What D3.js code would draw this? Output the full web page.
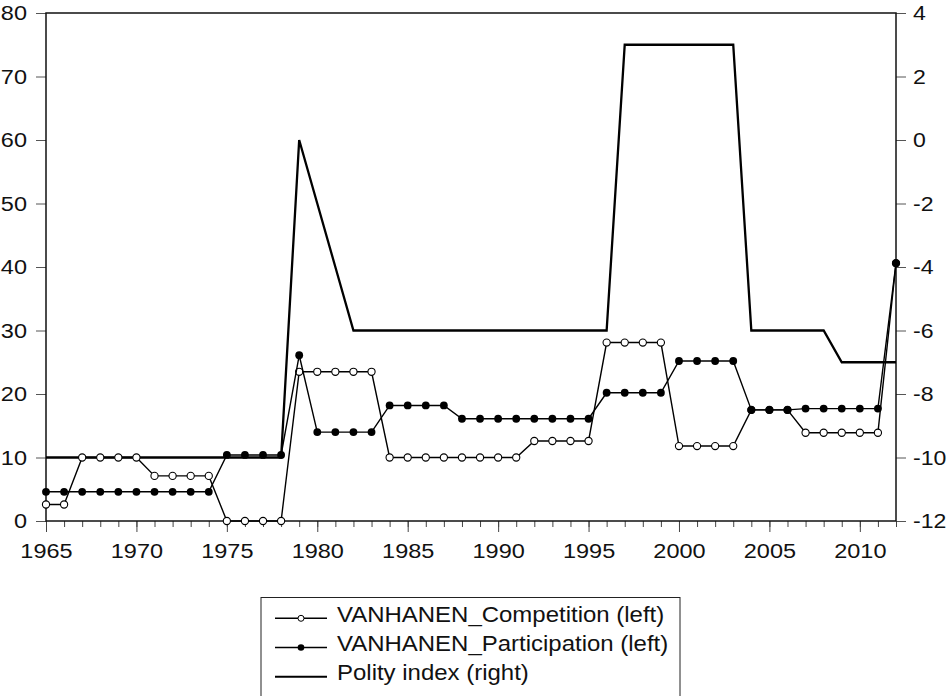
<!DOCTYPE html>
<html>
<head>
<meta charset="utf-8">
<script src="https://cdn.jsdelivr.net/npm/d3@7"></script>
<style>
  body { margin: 0; background: #fff; }
  svg { display: block; font-family: "Liberation Sans", Arial, sans-serif; }
</style>
</head>
<body>
<svg id="chart" width="948" height="696"></svg>
<script>
const years = [1965, 1966, 1967, 1968, 1969, 1970, 1971, 1972, 1973, 1974,
  1975, 1976, 1977, 1978, 1979, 1980, 1981, 1982, 1983, 1984,
  1985, 1986, 1987, 1988, 1989, 1990, 1991, 1992, 1993, 1994,
  1995, 1996, 1997, 1998, 1999, 2000, 2001, 2002, 2003, 2004,
  2005, 2006, 2007, 2008, 2009, 2010, 2011, 2012];

const competition = [2.6, 2.6, 10.0, 10.0, 10.0, 10.0, 7.1, 7.1, 7.1, 7.1,
  0, 0, 0, 0, 23.5, 23.5, 23.5, 23.5, 23.5, 10.0,
  10.0, 10.0, 10.0, 10.0, 10.0, 10.0, 10.0, 12.6, 12.6, 12.6,
  12.6, 28.1, 28.1, 28.1, 28.1, 11.8, 11.8, 11.8, 11.8, 17.5,
  17.5, 17.5, 13.9, 13.9, 13.9, 13.9, 13.9, 40.6];

const participation = [4.6, 4.6, 4.6, 4.6, 4.6, 4.6, 4.6, 4.6, 4.6, 4.6,
  10.4, 10.4, 10.4, 10.4, 26.1, 14.0, 14.0, 14.0, 14.0, 18.2,
  18.2, 18.2, 18.2, 16.1, 16.1, 16.1, 16.1, 16.1, 16.1, 16.1,
  16.1, 20.2, 20.2, 20.2, 20.2, 25.2, 25.2, 25.2, 25.2, 17.5,
  17.5, 17.5, 17.7, 17.7, 17.7, 17.7, 17.7, 40.6];

const polity = [-10, -10, -10, -10, -10, -10, -10, -10, -10, -10,
  -10, -10, -10, -10, 0, -2, -4, -6, -6, -6,
  -6, -6, -6, -6, -6, -6, -6, -6, -6, -6,
  -6, -6, 3, 3, 3, 3, 3, 3, 3, -6,
  -6, -6, -6, -6, -7, -7, -7, -7];

const xTicks = [1965, 1970, 1975, 1980, 1985, 1990, 1995, 2000, 2005, 2010];
const leftTicks = [0, 10, 20, 30, 40, 50, 60, 70, 80];
const rightTicks = [-12, -10, -8, -6, -4, -2, 0, 2, 4];
const legendLabels = ["VANHANEN_Competition (left)", "VANHANEN_Participation (left)", "Polity index (right)"];

const svg = d3.select("#chart");
const plotL = 46, plotR = 896, plotT = 13, plotB = 521;

const x = d3.scaleLinear().domain([1965, 2012]).range([plotL, plotR]);
const yL = d3.scaleLinear().domain([0, 80]).range([plotB, plotT]);
const yR = d3.scaleLinear().domain([-12, 4]).range([plotB, plotT]);

// plain hyphen for negatives, like the original
const plain = d => String(d);

// stretch text a little wider, like the original export
function stretch(sel, sx) {
  sel.each(function () {
    const t = d3.select(this);
    const x0 = +t.attr("x") || 0;
    t.attr("x", x0 / sx).attr("transform", `scale(${sx},1)`);
  });
}

// minor year ticks
svg.append("g")
  .attr("transform", `translate(0,${plotB})`)
  .call(d3.axisBottom(x).tickValues(years).tickSize(6).tickFormat(""))
  .call(g => g.select(".domain").remove())
  .call(g => g.selectAll("line").attr("stroke", "#444"));

// major ticks + labels
const xa = svg.append("g")
  .attr("transform", `translate(0,${plotB})`)
  .call(d3.axisBottom(x).tickValues(xTicks).tickSize(11).tickPadding(11).tickFormat(plain))
  .call(g => g.select(".domain").remove())
  .call(g => g.selectAll("line").attr("stroke", "#444"));
xa.selectAll("text").attr("font-size", 21).attr("fill", "#111").attr("font-family", null);
stretch(xa.selectAll("text"), 1.12);

const ya = svg.append("g")
  .attr("transform", `translate(${plotL},0)`)
  .call(d3.axisLeft(yL).tickValues(leftTicks).tickSize(10).tickPadding(9).tickFormat(plain))
  .call(g => g.select(".domain").remove())
  .call(g => g.selectAll("line").attr("stroke", "#555"));
ya.selectAll("text").attr("font-size", 21).attr("fill", "#111").attr("font-family", null);
stretch(ya.selectAll("text"), 1.12);

const yb = svg.append("g")
  .attr("transform", `translate(${plotR},0)`)
  .call(d3.axisRight(yR).tickValues(rightTicks).tickSize(10).tickPadding(7).tickFormat(plain))
  .call(g => g.select(".domain").remove())
  .call(g => g.selectAll("line").attr("stroke", "#555"));
yb.selectAll("text").attr("font-size", 21).attr("fill", "#111").attr("font-family", null);
stretch(yb.selectAll("text"), 1.1);

// plot frame
svg.append("rect")
  .attr("x", plotL).attr("y", plotT)
  .attr("width", plotR - plotL).attr("height", plotB - plotT)
  .attr("fill", "none").attr("stroke", "#111").attr("stroke-width", 1.5);

const lineL = vals => d3.line().x((d, i) => x(years[i])).y(d => yL(d))(vals);
const lineR = vals => d3.line().x((d, i) => x(years[i])).y(d => yR(d))(vals);

// polity (right axis)
svg.append("path")
  .attr("d", lineR(polity))
  .attr("fill", "none").attr("stroke", "#000").attr("stroke-width", 2.3)
  .attr("stroke-linejoin", "miter");

// competition (open circles)
svg.append("path")
  .attr("d", lineL(competition))
  .attr("fill", "none").attr("stroke", "#000").attr("stroke-width", 1.4);
svg.append("g").selectAll("circle")
  .data(competition)
  .join("circle")
  .attr("cx", (d, i) => x(years[i]))
  .attr("cy", d => yL(d))
  .attr("r", 3.6)
  .attr("fill", "#fff").attr("stroke", "#000").attr("stroke-width", 1.1);

// participation (filled circles)
svg.append("path")
  .attr("d", lineL(participation))
  .attr("fill", "none").attr("stroke", "#000").attr("stroke-width", 1.4);
svg.append("g").selectAll("circle")
  .data(participation)
  .join("circle")
  .attr("cx", (d, i) => x(years[i]))
  .attr("cy", d => yL(d))
  .attr("r", 3.9)
  .attr("fill", "#000");

// legend
const lg = svg.append("g");
lg.append("rect")
  .attr("x", 261).attr("y", 597.5)
  .attr("width", 419).attr("height", 120)
  .attr("fill", "#fff").attr("stroke", "#222").attr("stroke-width", 1);

const rowY = [618.3, 647.5, 676.7];
legendLabels.forEach((label, i) => {
  const yy = rowY[i];
  lg.append("line")
    .attr("x1", 275).attr("x2", 327).attr("y1", yy).attr("y2", yy)
    .attr("stroke", "#000").attr("stroke-width", i === 2 ? 2 : 1.4);
  if (i === 0) {
    lg.append("circle").attr("cx", 301).attr("cy", yy).attr("r", 3)
      .attr("fill", "#fff").attr("stroke", "#000").attr("stroke-width", 1);
  } else if (i === 1) {
    lg.append("circle").attr("cx", 301).attr("cy", yy).attr("r", 3.3).attr("fill", "#000");
  }
  const t = lg.append("text")
    .attr("x", 337).attr("y", yy + 3.5)
    .attr("font-size", 22).attr("fill", "#111")
    .text(label);
  stretch(t, 1.09);
});
</script>
</body>
</html>
